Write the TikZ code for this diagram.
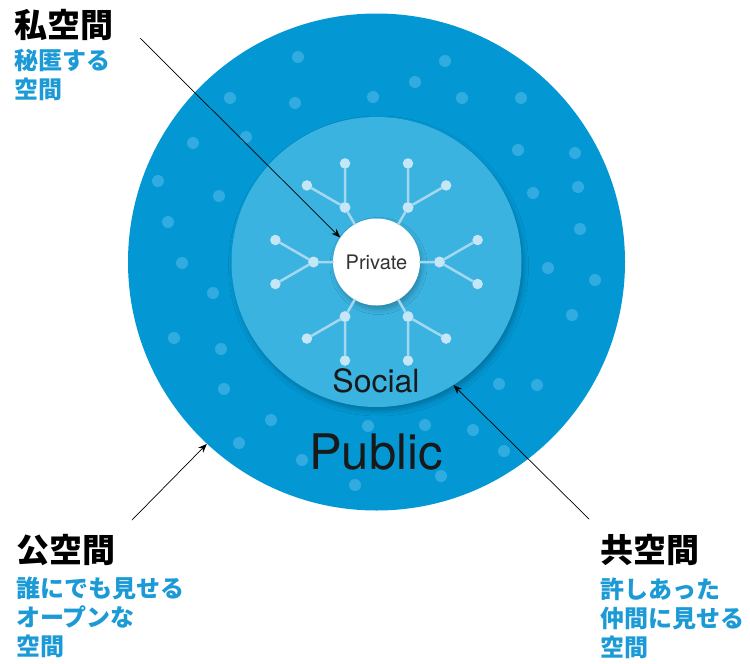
\documentclass[tikz,border=0pt]{standalone}
\usepackage{fontspec}
\setmainfont{TeX Gyre Heros}
\newfontfamily\jpfont{Noto Sans CJK JP}
\usetikzlibrary{arrows.meta,shadows.blur}
\definecolor{publicblue}{RGB}{3,152,212}
\definecolor{socialblue}{RGB}{58,179,225}
\definecolor{pubdot}{RGB}{50,172,224}
\definecolor{netdot}{RGB}{196,230,246}
\definecolor{netline}{RGB}{165,216,239}
\definecolor{captionblue}{RGB}{27,154,214}
\tikzset{
	ring/.style={circle, inner sep=0pt, minimum size=#1},
	netnode/.style={circle, fill=netdot, inner sep=0pt, minimum size=#1},
	headtext/.style={anchor=north west, inner sep=0pt, font=\jpfont\bfseries\fontsize{33}{33}\selectfont},
	captext/.style={anchor=north west, inner sep=0pt, align=left, text=captionblue, font=\jpfont\bfseries\fontsize{24}{29}\selectfont},
	softshadow/.style={blur shadow={shadow xshift=2pt, shadow yshift=-4pt, shadow blur radius=5pt, shadow opacity=25}}
}
\begin{document}
\begin{tikzpicture}[x=1pt, y=-1pt, line cap=round, line join=round, >={Stealth[length=9pt,width=7pt]}]
	\useasboundingbox (0,0) rectangle (750,664);
	% three spaces
	\node[ring=497pt, fill=publicblue] (public) at (376.5,262) {};
	\foreach \px/\py in {298/57,445/61,415/82,230/98,295/103,373/97,462/98,521/98,246/137,193/143,518/150,575/153,158/181,219/196,533/193,578/187,168/222,580/229,182/263,548/268,595/280,213/293,572/315,174/338,221/349,224/389,499/384,537/385,271/420,368/426,425/425,473/430,239/443,504/451,302/460,441/476,355/485}
		\fill[pubdot] (\px,\py) circle (6pt);
	\node[ring=290pt, fill=socialblue, softshadow] (social) at (376.5,262) {};
	\node[ring=87pt, fill=white, softshadow, text=black!80, font=\fontsize{20}{20}\selectfont] (private) at (376.5,262) {Private};
	% network around private
	\foreach \a in {0,60,...,300}{
		\node[netnode=11pt] (hub\a) at ([shift={(\a:63)}]private.center) {};
		\node[netnode=10.5pt] (lfa\a) at ([shift={({\a+30}:44)}]hub\a) {};
		\node[netnode=10.5pt] (lfb\a) at ([shift={({\a-30}:44)}]hub\a) {};
		\draw[netline, line width=2.5pt] (private) -- (hub\a) (hub\a) -- (lfa\a) (hub\a) -- (lfb\a);
	}
	\node[anchor=base, inner sep=0pt, text=black!90, font=\fontsize{32}{32}\selectfont] (soclbl) at (376,392) {Social};
	\node[anchor=base, inner sep=0pt, text=black!90, font=\fontsize{49}{49}\selectfont] (publbl) at (376,469) {Public};
	% labels
	\node[headtext] (privhead) at (14,9) {私空間};
	\node[captext] (privcap) at (14,49) {秘匿する\\空間};
	\node[headtext] (pubhead) at (16,534) {公空間};
	\node[captext] (pubcap) at (16,577) {誰にでも見せる\\オープンな\\空間};
	\node[headtext] (soshead) at (600,534) {共空間};
	\node[captext] (soscap) at (600,578) {許しあった\\仲間に見せる\\空間};
	% arrows
	\coordinate (privfrom) at (140,38);
	\coordinate (pubfrom) at (132,520);
	\coordinate (sosfrom) at (589,519);
	\draw[->, line width=0.7pt] (privfrom) -- (private.146);
	\draw[->, line width=0.7pt] (pubfrom) -- (public.227);
	\draw[->, line width=0.7pt] (sosfrom) -- (social.302);
\end{tikzpicture}
\end{document}
